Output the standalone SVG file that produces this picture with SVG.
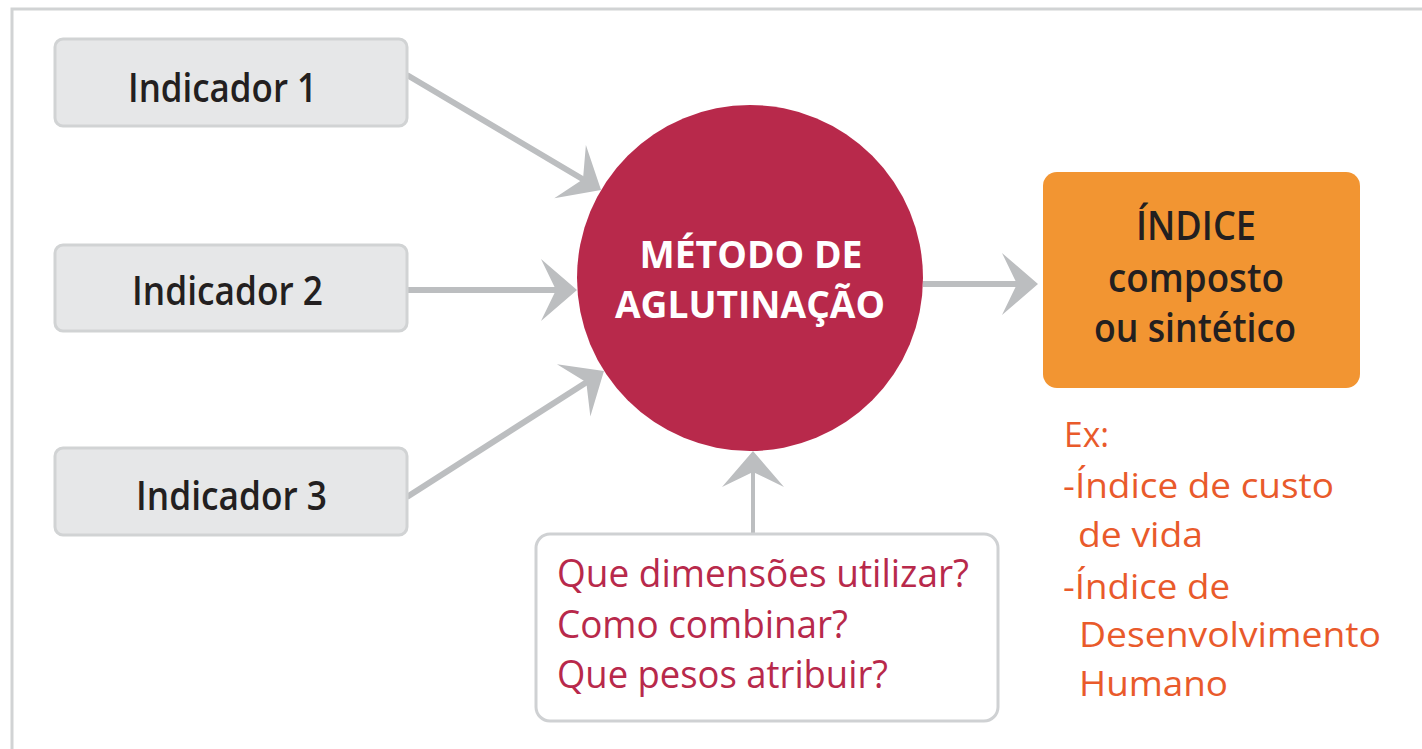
<svg xmlns="http://www.w3.org/2000/svg" width="1422" height="749" viewBox="0 0 1422 749">
  <style>
    .ind rect { fill: #e6e7e8; stroke: #d1d3d4; stroke-width: 3; }
    .ind text { font-family: "Open Sans", "Noto Sans", sans-serif; font-size: 40px; font-weight: 600; fill: #231f20; }
    .circ text { font-family: "Open Sans", "Noto Sans", sans-serif; font-size: 38px; font-weight: bold; fill: #ffffff; text-anchor: middle; }
    .idx text { font-family: "Open Sans", "Noto Sans", sans-serif; font-size: 39px; font-weight: 600; fill: #231f20; text-anchor: middle; }
    .q text { font-family: "Open Sans", "Noto Sans", sans-serif; font-size: 38px; fill: #b8294b; }
    .ex text { font-family: "Open Sans", "Noto Sans", sans-serif; font-size: 35px; fill: #e95a2b; }
    .conn path { fill: none; stroke: #bcbec0; }
  </style>
  <defs>
    <marker id="head" markerUnits="userSpaceOnUse" viewBox="-40 -35 48 70" markerWidth="48" markerHeight="70" refX="0" refY="0" orient="auto">
      <path d="M4,0 L-32,-31 L-17,0 L-32,31 Z" fill="#bcbec0"/>
    </marker>
  </defs>
  <rect width="1422" height="749" fill="#ffffff"/>
  <path d="M12,749 V9 H1422" fill="none" stroke="#d1d3d4" stroke-width="3"/>

  <g class="conn" id="connectors">
    <path d="M407,75 L597.6,188" stroke-width="6" marker-end="url(#head)"/>
    <path d="M408,290 L573,290" stroke-width="6" marker-end="url(#head)"/>
    <path d="M407,497 L600.6,373.2" stroke-width="6" marker-end="url(#head)"/>
    <path d="M923,284 L1034,284" stroke-width="6" marker-end="url(#head)"/>
    <path d="M753,533 L753,455" stroke-width="4" marker-end="url(#head)"/>
  </g>

  <g class="ind" id="indicador1">
    <rect x="55" y="39" width="352" height="87" rx="8"/>
    <text x="128" y="102" textLength="189" lengthAdjust="spacingAndGlyphs">Indicador 1</text>
  </g>
  <g class="ind" id="indicador2">
    <rect x="55" y="245" width="352" height="86" rx="8"/>
    <text x="132" y="305" textLength="191" lengthAdjust="spacingAndGlyphs">Indicador 2</text>
  </g>
  <g class="ind" id="indicador3">
    <rect x="55" y="448" width="352" height="87" rx="8"/>
    <text x="136" y="510" textLength="191" lengthAdjust="spacingAndGlyphs">Indicador 3</text>
  </g>

  <g class="circ" id="metodo">
    <circle cx="750" cy="278" r="173" fill="#b8294b"/>
    <text x="751" y="268" textLength="223" lengthAdjust="spacingAndGlyphs">MÉTODO DE</text>
    <text x="750" y="318" textLength="270" lengthAdjust="spacingAndGlyphs">AGLUTINAÇÃO</text>
  </g>

  <g class="idx" id="indice">
    <rect x="1043" y="172" width="317" height="216" rx="14" fill="#f29532"/>
    <text x="1196" y="240" textLength="120" lengthAdjust="spacingAndGlyphs">ÍNDICE</text>
    <text x="1196" y="292" textLength="176" lengthAdjust="spacingAndGlyphs">composto</text>
    <text x="1195" y="342" textLength="202" lengthAdjust="spacingAndGlyphs">ou sintético</text>
  </g>

  <g class="q" id="perguntas">
    <rect x="536" y="534" width="462" height="187" rx="14" fill="#ffffff" stroke="#cfd1d3" stroke-width="3"/>
    <text x="557" y="587" textLength="412" lengthAdjust="spacingAndGlyphs">Que dimensões utilizar?</text>
    <text x="557" y="638" textLength="291" lengthAdjust="spacingAndGlyphs">Como combinar?</text>
    <text x="557" y="688" textLength="331" lengthAdjust="spacingAndGlyphs">Que pesos atribuir?</text>
  </g>

  <g class="ex" id="exemplos">
    <text x="1064" y="447" textLength="45" lengthAdjust="spacingAndGlyphs">Ex:</text>
    <text x="1063" y="498" textLength="271" lengthAdjust="spacingAndGlyphs">-Índice de custo</text>
    <text x="1078" y="547" textLength="125" lengthAdjust="spacingAndGlyphs">de vida</text>
    <text x="1063" y="599" textLength="167" lengthAdjust="spacingAndGlyphs">-Índice de</text>
    <text x="1079" y="647" textLength="302" lengthAdjust="spacingAndGlyphs">Desenvolvimento</text>
    <text x="1079" y="696" textLength="149" lengthAdjust="spacingAndGlyphs">Humano</text>
  </g>
</svg>
